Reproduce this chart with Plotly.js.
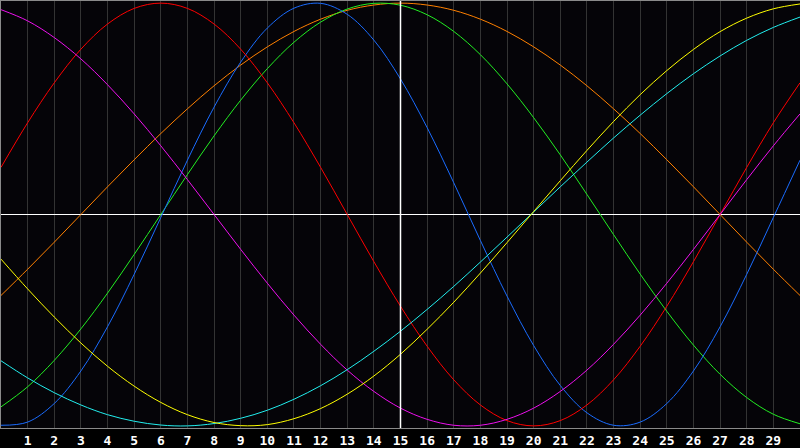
<!DOCTYPE html>
<html>
<head>
<meta charset="utf-8">
<script src="https://cdn.plot.ly/plotly-3.0.1.min.js"></script>
<style>
  html, body { margin: 0; padding: 0; background: #000; }
  #chart { width: 800px; height: 448px; }
</style>
</head>
<body>
<div id="chart"></div>
<script>
// x positions 0..30, one sample per unit
var xs = [0,1,2,3,4,5,6,7,8,9,10,11,12,13,14,15,16,17,18,19,20,21,22,23,24,25,26,27,28,29,30];

var tickVals = [1,2,3,4,5,6,7,8,9,10,11,12,13,14,15,16,17,18,19,20,21,22,23,24,25,26,27,28,29];
var tickLabels = ["1","2","3","4","5","6","7","8","9","10","11","12","13","14","15",
                  "16","17","18","19","20","21","22","23","24","25","26","27","28","29"];

// values
var redVals = [0.223,0.434,0.623,0.782,0.901,0.975,1.000,0.975,0.901,0.782,0.623,0.434,0.223,0.000,-0.223,-0.434,
               -0.623,-0.782,-0.901,-0.975,-1.000,-0.975,-0.901,-0.782,-0.623,-0.434,-0.223,0.000,0.223,0.434,0.623];
var blueVals = [-0.997,-0.982,-0.894,-0.740,-0.531,-0.283,-0.014,0.257,0.508,0.721,0.882,0.976,0.999,0.947,0.825,0.641,
                0.411,0.150,-0.123,-0.386,-0.620,-0.809,-0.938,-0.997,-0.982,-0.894,-0.740,-0.531,-0.283,-0.014,0.257];
var greenVals = [-0.910,-0.815,-0.690,-0.541,-0.372,-0.189,0.000,0.189,0.372,0.541,0.690,0.815,0.910,0.972,0.999,0.990,
                 0.945,0.866,0.756,0.618,0.458,0.282,0.095,-0.095,-0.282,-0.458,-0.618,-0.756,-0.866,-0.945,-0.990];
var orangeVals = [-0.383,-0.259,-0.131,0.000,0.131,0.259,0.383,0.500,0.609,0.707,0.793,0.866,0.924,0.966,0.991,1.000,
                  0.991,0.966,0.924,0.866,0.793,0.707,0.609,0.500,0.383,0.259,0.131,0.000,-0.131,-0.259,-0.383];
var magentaVals = [0.969,0.916,0.837,0.736,0.614,0.476,0.325,0.165,0.000,-0.165,-0.325,-0.476,-0.614,-0.736,-0.837,-0.916,
                   -0.969,-0.997,-0.997,-0.969,-0.916,-0.837,-0.736,-0.614,-0.476,-0.325,-0.165,0.000,0.165,0.325,0.476];
var yellowVals = [-0.211,-0.352,-0.485,-0.608,-0.718,-0.812,-0.889,-0.947,-0.984,-0.999,-0.994,-0.966,-0.918,-0.850,-0.764,-0.661,
                  -0.543,-0.415,-0.277,-0.133,0.014,0.160,0.303,0.440,0.567,0.681,0.781,0.865,0.929,0.973,0.996];
var cyanVals = [-0.692,-0.773,-0.843,-0.901,-0.947,-0.978,-0.996,-1.000,-0.989,-0.964,-0.926,-0.874,-0.810,-0.734,-0.647,-0.552,
                -0.449,-0.340,-0.225,-0.107,0.012,0.131,0.248,0.362,0.470,0.572,0.666,0.750,0.824,0.885,0.934];

function curve(vals, color) {
  return {
    x: xs, y: vals, type: "scatter", mode: "lines",
    line: { color: color, width: 1, shape: "spline", smoothing: 1 },
    hoverinfo: "skip"
  };
}

var data = [
  curve(orangeVals, "#ff8000"),
  curve(greenVals, "#22ee22"),
  curve(blueVals, "#1a6cff"),
  curve(redVals, "#ff0000"),
  curve(magentaVals, "#ee10ee"),
  curve(cyanVals, "#22eeee"),
  curve(yellowVals, "#ffff00")
];

var layout = {
  width: 800, height: 448,
  margin: { l: 1, r: 0, t: 1, b: 20 },
  paper_bgcolor: "#000000",
  plot_bgcolor: "#050408",
  showlegend: false,
  xaxis: {
    range: [0, 30],
    tickvals: tickVals, ticktext: tickLabels,
    ticks: "", showgrid: true, gridcolor: "#333333", gridwidth: 1,
    zeroline: false,
    showline: true, linecolor: "#8a8a8a", linewidth: 1, mirror: true,
    tickfont: { family: "DejaVu Sans Mono", size: 13, color: "#ffffff", weight: "bold" },
    fixedrange: true
  },
  yaxis: {
    range: [-1.01, 1.01],
    showticklabels: false, ticks: "", showgrid: false,
    zeroline: true, zerolinecolor: "#ffffff", zerolinewidth: 1.5,
    showline: true, linecolor: "#8a8a8a", linewidth: 1, mirror: true,
    fixedrange: true
  },
  shapes: [
    { type: "line", xref: "x", yref: "paper", x0: 15, x1: 15, y0: 0, y1: 1,
      line: { color: "#ffffff", width: 1.5 }, layer: "above" }
  ]
};

Plotly.newPlot("chart", data, layout, { displayModeBar: false, staticPlot: true });
</script>
</body>
</html>
